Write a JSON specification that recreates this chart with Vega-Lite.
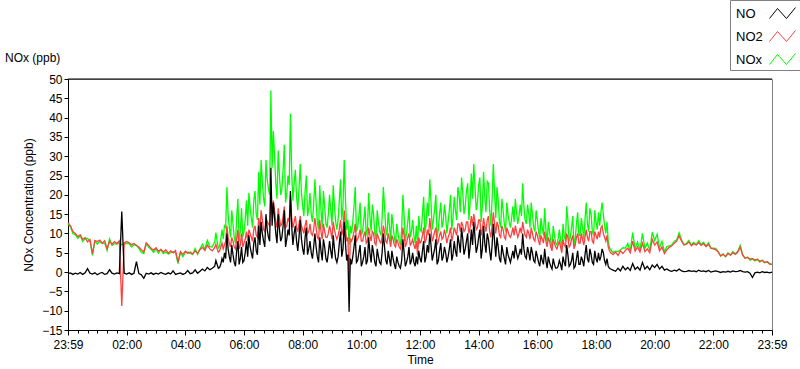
{
"$schema":"https://vega.github.io/schema/vega-lite/v6.json",
"autosize":{"type":"none"},
"width":704,"height":251,
"padding":{"left":68,"top":79,"right":28,"bottom":39},
"background":"white",
"config":{"font":"Liberation Sans","view":{"stroke":"#808080","strokeWidth":1},"axis":{"labelColor":"black","titleColor":"black","domainColor":"black","tickColor":"black","labelFontSize":12,"titleFontSize":12,"titleFontWeight":"normal","grid":false,"labelOverlap":false,"labelSeparation":0}},
"title":{"text":"NOx (ppb)","anchor":"start","frame":"group","dx":-63,"dy":65,"offset":0,"fontSize":12,"fontWeight":"normal","color":"black"},
"datasets":{"d":[
{"m":0,"NO":-0.4,"NO2":12.8,"NOx":12.4},{"m":5,"NO":-0.2,"NO2":12.0,"NOx":11.8},{"m":10,"NO":-0.6,"NO2":10.5,"NOx":9.9},{"m":15,"NO":-0.3,"NO2":10.0,"NOx":9.7},{"m":20,"NO":-0.5,"NO2":9.2,"NOx":8.7},{"m":25,"NO":-0.1,"NO2":9.6,"NOx":9.5},{"m":30,"NO":-0.6,"NO2":8.5,"NOx":7.9},{"m":35,"NO":-0.2,"NO2":8.9,"NOx":8.7},{"m":40,"NO":0.9,"NO2":7.8,"NOx":8.7},{"m":45,"NO":-0.3,"NO2":8.4,"NOx":8.1},
{"m":50,"NO":-0.5,"NO2":4.8,"NOx":4.3},{"m":55,"NO":-0.2,"NO2":8.2,"NOx":8.0},{"m":60,"NO":-0.7,"NO2":7.9,"NOx":7.2},{"m":65,"NO":-0.3,"NO2":8.3,"NOx":8.0},{"m":70,"NO":-0.1,"NO2":7.5,"NOx":7.4},{"m":75,"NO":-0.6,"NO2":8.1,"NOx":7.5},{"m":80,"NO":-0.4,"NO2":6.0,"NOx":5.6},{"m":85,"NO":0.6,"NO2":8.0,"NOx":8.6},{"m":90,"NO":-0.3,"NO2":7.2,"NOx":6.9},{"m":95,"NO":-0.5,"NO2":7.9,"NOx":7.4},
{"m":100,"NO":-0.2,"NO2":7.4,"NOx":7.2},{"m":105,"NO":-0.4,"NO2":8.1,"NOx":7.7},{"m":110,"NO":15.7,"NO2":-8.8,"NOx":7.0},{"m":115,"NO":-0.3,"NO2":7.6,"NOx":7.3},{"m":120,"NO":-0.5,"NO2":7.9,"NOx":7.4},{"m":125,"NO":-0.2,"NO2":7.6,"NOx":7.4},{"m":130,"NO":-0.6,"NO2":7.1,"NOx":6.5},{"m":135,"NO":-0.3,"NO2":7.4,"NOx":7.1},{"m":140,"NO":2.7,"NO2":6.8,"NOx":7.0},{"m":145,"NO":-0.4,"NO2":6.5,"NOx":6.1},
{"m":150,"NO":-0.7,"NO2":5.8,"NOx":5.1},{"m":155,"NO":-1.6,"NO2":5.2,"NOx":4.8},{"m":160,"NO":-0.3,"NO2":7.6,"NOx":7.3},{"m":165,"NO":-0.5,"NO2":6.9,"NOx":6.4},{"m":170,"NO":-0.2,"NO2":6.1,"NOx":5.9},{"m":175,"NO":-0.6,"NO2":5.7,"NOx":5.1},{"m":180,"NO":-0.3,"NO2":6.3,"NOx":6.0},{"m":185,"NO":-0.5,"NO2":5.4,"NOx":4.9},{"m":190,"NO":-0.1,"NO2":5.9,"NOx":5.8},{"m":195,"NO":-0.4,"NO2":5.2,"NOx":4.8},
{"m":200,"NO":-0.6,"NO2":5.8,"NOx":5.2},{"m":205,"NO":-0.2,"NO2":4.9,"NOx":4.7},{"m":210,"NO":-0.5,"NO2":5.5,"NOx":5.0},{"m":215,"NO":0.3,"NO2":5.0,"NOx":5.3},{"m":220,"NO":-0.6,"NO2":5.6,"NOx":5.0},{"m":225,"NO":-0.4,"NO2":2.6,"NOx":2.2},{"m":230,"NO":-0.2,"NO2":5.3,"NOx":5.1},{"m":235,"NO":-0.6,"NO2":4.6,"NOx":4.0},{"m":240,"NO":-0.3,"NO2":5.4,"NOx":5.1},{"m":245,"NO":0.4,"NO2":4.8,"NOx":5.2},
{"m":250,"NO":-0.4,"NO2":5.2,"NOx":4.8},{"m":255,"NO":-0.2,"NO2":4.7,"NOx":4.5},{"m":260,"NO":0.6,"NO2":5.5,"NOx":6.1},{"m":265,"NO":-0.3,"NO2":4.9,"NOx":4.6},{"m":270,"NO":0.2,"NO2":5.8,"NOx":6.0},{"m":275,"NO":0.8,"NO2":6.4,"NOx":7.2},{"m":280,"NO":0.3,"NO2":5.6,"NOx":5.9},{"m":285,"NO":1.2,"NO2":7.0,"NOx":8.2},{"m":290,"NO":0.6,"NO2":6.0,"NOx":6.6},{"m":295,"NO":1.0,"NO2":5.5,"NOx":6.5},
{"m":300,"NO":1.5,"NO2":6.3,"NOx":7.8},{"m":305,"NO":2.0,"NO2":6.0,"NOx":8.0},{"m":310,"NO":1.2,"NO2":5.5,"NOx":6.7},{"m":315,"NO":3.5,"NO2":7.5,"NOx":11.0},{"m":320,"NO":5.0,"NO2":7.0,"NOx":12.0},{"m":325,"NO":10.0,"NO2":12.0,"NOx":22.0},{"m":330,"NO":4.0,"NO2":7.5,"NOx":11.5},{"m":335,"NO":7.0,"NO2":9.0,"NOx":16.0},{"m":340,"NO":2.5,"NO2":6.5,"NOx":9.0},{"m":345,"NO":5.5,"NO2":8.5,"NOx":14.0},
{"m":350,"NO":2.0,"NO2":6.0,"NOx":8.0},{"m":355,"NO":6.5,"NO2":10.0,"NOx":16.5},{"m":360,"NO":3.0,"NO2":7.5,"NOx":10.5},{"m":365,"NO":8.0,"NO2":10.5,"NOx":18.5},{"m":370,"NO":9.5,"NO2":11.0,"NOx":20.5},{"m":375,"NO":5.0,"NO2":9.0,"NOx":14.0},{"m":380,"NO":7.5,"NO2":11.0,"NOx":18.5},{"m":385,"NO":5.5,"NO2":9.5,"NOx":15.0},{"m":390,"NO":12.0,"NO2":14.0,"NOx":26.0},{"m":395,"NO":13.0,"NO2":16.0,"NOx":29.0},
{"m":400,"NO":8.0,"NO2":11.0,"NOx":19.0},{"m":405,"NO":15.0,"NO2":14.0,"NOx":29.0},{"m":410,"NO":9.0,"NO2":12.5,"NOx":21.5},{"m":415,"NO":27.0,"NO2":20.0,"NOx":47.0},{"m":420,"NO":18.0,"NO2":18.5,"NOx":36.5},{"m":425,"NO":10.0,"NO2":13.0,"NOx":23.0},{"m":430,"NO":15.0,"NO2":16.5,"NOx":31.5},{"m":435,"NO":8.0,"NO2":12.0,"NOx":20.0},{"m":440,"NO":12.0,"NO2":14.5,"NOx":26.5},{"m":445,"NO":6.5,"NO2":11.5,"NOx":18.0},
{"m":450,"NO":11.0,"NO2":14.0,"NOx":25.0},{"m":455,"NO":21.0,"NO2":20.0,"NOx":41.0},{"m":460,"NO":7.0,"NO2":11.5,"NOx":18.5},{"m":465,"NO":12.0,"NO2":14.5,"NOx":26.5},{"m":470,"NO":5.5,"NO2":10.5,"NOx":16.0},{"m":475,"NO":13.5,"NO2":14.5,"NOx":28.0},{"m":480,"NO":6.0,"NO2":11.0,"NOx":17.0},{"m":485,"NO":9.0,"NO2":12.0,"NOx":21.0},{"m":490,"NO":4.5,"NO2":10.0,"NOx":14.5},{"m":495,"NO":8.0,"NO2":12.5,"NOx":20.5},
{"m":500,"NO":3.5,"NO2":9.5,"NOx":13.0},{"m":505,"NO":10.0,"NO2":14.0,"NOx":24.0},{"m":510,"NO":4.0,"NO2":9.0,"NOx":13.0},{"m":515,"NO":9.0,"NO2":13.5,"NOx":22.5},{"m":520,"NO":3.0,"NO2":8.5,"NOx":11.5},{"m":525,"NO":6.5,"NO2":10.5,"NOx":17.0},{"m":530,"NO":2.5,"NO2":9.0,"NOx":11.5},{"m":535,"NO":8.0,"NO2":12.0,"NOx":20.0},{"m":540,"NO":3.5,"NO2":8.5,"NOx":12.0},{"m":545,"NO":6.0,"NO2":11.0,"NOx":17.0},
{"m":550,"NO":2.5,"NO2":8.5,"NOx":11.0},{"m":555,"NO":7.5,"NO2":11.0,"NOx":18.5},{"m":560,"NO":4.0,"NO2":9.5,"NOx":13.5},{"m":565,"NO":13.0,"NO2":16.0,"NOx":29.0},{"m":570,"NO":3.0,"NO2":8.0,"NOx":11.0},{"m":575,"NO":-10.3,"NO2":-2.3,"NOx":7.0},{"m":580,"NO":2.0,"NO2":8.0,"NOx":10.0},{"m":585,"NO":6.5,"NO2":10.5,"NOx":17.0},{"m":590,"NO":2.5,"NO2":8.0,"NOx":10.5},{"m":595,"NO":5.0,"NO2":9.5,"NOx":14.5},
{"m":600,"NO":1.5,"NO2":8.0,"NOx":9.5},{"m":605,"NO":4.0,"NO2":9.5,"NOx":13.5},{"m":610,"NO":2.0,"NO2":7.5,"NOx":9.5},{"m":615,"NO":9.0,"NO2":11.5,"NOx":20.5},{"m":620,"NO":2.5,"NO2":8.0,"NOx":10.5},{"m":625,"NO":5.0,"NO2":10.0,"NOx":15.0},{"m":630,"NO":1.5,"NO2":7.0,"NOx":8.5},{"m":635,"NO":4.0,"NO2":9.0,"NOx":13.0},{"m":640,"NO":2.0,"NO2":7.5,"NOx":9.5},{"m":645,"NO":10.0,"NO2":12.0,"NOx":22.0},
{"m":650,"NO":3.0,"NO2":8.0,"NOx":11.0},{"m":655,"NO":5.5,"NO2":10.0,"NOx":15.5},{"m":660,"NO":1.5,"NO2":6.5,"NOx":8.0},{"m":665,"NO":3.5,"NO2":8.5,"NOx":12.0},{"m":670,"NO":0.8,"NO2":6.5,"NOx":7.3},{"m":675,"NO":2.5,"NO2":7.5,"NOx":10.0},{"m":680,"NO":1.0,"NO2":6.0,"NOx":7.0},{"m":685,"NO":8.5,"NO2":11.5,"NOx":20.0},{"m":690,"NO":1.5,"NO2":6.5,"NOx":8.0},{"m":695,"NO":4.0,"NO2":9.0,"NOx":13.0},
{"m":700,"NO":2.0,"NO2":7.0,"NOx":9.0},{"m":705,"NO":5.0,"NO2":8.5,"NOx":13.5},{"m":710,"NO":1.5,"NO2":6.0,"NOx":7.5},{"m":715,"NO":2.0,"NO2":4.5,"NOx":6.5},{"m":720,"NO":3.5,"NO2":7.5,"NOx":11.0},{"m":725,"NO":5.5,"NO2":9.5,"NOx":15.0},{"m":730,"NO":2.5,"NO2":7.5,"NOx":10.0},{"m":735,"NO":7.0,"NO2":11.0,"NOx":18.0},{"m":740,"NO":10.0,"NO2":14.0,"NOx":24.0},{"m":745,"NO":3.0,"NO2":8.0,"NOx":11.0},
{"m":750,"NO":6.0,"NO2":10.5,"NOx":16.5},{"m":755,"NO":2.0,"NO2":7.0,"NOx":9.0},{"m":760,"NO":5.5,"NO2":9.5,"NOx":15.0},{"m":765,"NO":3.0,"NO2":8.5,"NOx":11.5},{"m":770,"NO":6.5,"NO2":11.0,"NOx":17.5},{"m":775,"NO":2.5,"NO2":7.5,"NOx":10.0},{"m":780,"NO":6.0,"NO2":10.0,"NOx":16.0},{"m":785,"NO":3.0,"NO2":8.0,"NOx":11.0},{"m":790,"NO":8.0,"NO2":11.5,"NOx":19.5},{"m":795,"NO":4.0,"NO2":9.5,"NOx":13.5},
{"m":800,"NO":7.5,"NO2":12.5,"NOx":20.0},{"m":805,"NO":11.5,"NO2":13.0,"NOx":24.5},{"m":810,"NO":4.5,"NO2":10.5,"NOx":15.0},{"m":815,"NO":8.0,"NO2":13.0,"NOx":21.0},{"m":820,"NO":3.5,"NO2":10.0,"NOx":13.5},{"m":825,"NO":11.0,"NO2":14.5,"NOx":25.5},{"m":830,"NO":13.0,"NO2":15.0,"NOx":28.0},{"m":835,"NO":5.0,"NO2":11.0,"NOx":16.0},{"m":840,"NO":9.0,"NO2":13.5,"NOx":22.5},{"m":845,"NO":3.5,"NO2":9.5,"NOx":13.0},
{"m":850,"NO":12.0,"NO2":14.0,"NOx":26.0},{"m":855,"NO":5.0,"NO2":10.5,"NOx":15.5},{"m":860,"NO":8.5,"NO2":14.5,"NOx":23.0},{"m":865,"NO":3.0,"NO2":9.0,"NOx":12.0},{"m":870,"NO":12.5,"NO2":15.5,"NOx":28.0},{"m":875,"NO":4.0,"NO2":10.0,"NOx":14.0},{"m":880,"NO":6.5,"NO2":12.0,"NOx":18.5},{"m":885,"NO":2.5,"NO2":9.0,"NOx":11.5},{"m":890,"NO":5.0,"NO2":11.0,"NOx":16.0},{"m":895,"NO":2.0,"NO2":8.5,"NOx":10.5},
{"m":900,"NO":4.5,"NO2":10.5,"NOx":15.0},{"m":905,"NO":2.5,"NO2":9.0,"NOx":11.5},{"m":910,"NO":5.5,"NO2":11.5,"NOx":17.0},{"m":915,"NO":7.0,"NO2":12.0,"NOx":19.0},{"m":920,"NO":3.5,"NO2":9.0,"NOx":12.5},{"m":925,"NO":6.0,"NO2":11.5,"NOx":17.5},{"m":930,"NO":10.0,"NO2":13.0,"NOx":23.0},{"m":935,"NO":4.0,"NO2":9.5,"NOx":13.5},{"m":940,"NO":6.5,"NO2":11.0,"NOx":17.5},{"m":945,"NO":3.0,"NO2":8.5,"NOx":11.5},
{"m":950,"NO":5.0,"NO2":10.0,"NOx":15.0},{"m":955,"NO":2.5,"NO2":8.0,"NOx":10.5},{"m":960,"NO":4.0,"NO2":9.5,"NOx":13.5},{"m":965,"NO":1.5,"NO2":7.0,"NOx":8.5},{"m":970,"NO":3.0,"NO2":8.5,"NOx":11.5},{"m":975,"NO":6.0,"NO2":10.5,"NOx":16.5},{"m":980,"NO":1.0,"NO2":6.5,"NOx":7.5},{"m":985,"NO":2.5,"NO2":8.0,"NOx":10.5},{"m":990,"NO":0.8,"NO2":5.5,"NOx":6.3},{"m":995,"NO":2.0,"NO2":7.5,"NOx":9.5},
{"m":1000,"NO":1.0,"NO2":6.0,"NOx":7.0},{"m":1005,"NO":3.0,"NO2":8.0,"NOx":11.0},{"m":1010,"NO":0.5,"NO2":5.0,"NOx":5.5},{"m":1015,"NO":2.5,"NO2":7.0,"NOx":9.5},{"m":1020,"NO":7.0,"NO2":10.0,"NOx":17.0},{"m":1025,"NO":1.5,"NO2":6.5,"NOx":8.0},{"m":1030,"NO":3.0,"NO2":8.5,"NOx":11.5},{"m":1035,"NO":1.0,"NO2":6.0,"NOx":7.0},{"m":1040,"NO":3.5,"NO2":9.0,"NOx":12.5},{"m":1045,"NO":2.0,"NO2":7.5,"NOx":9.5},
{"m":1050,"NO":4.0,"NO2":10.0,"NOx":14.0},{"m":1055,"NO":1.5,"NO2":7.0,"NOx":8.5},{"m":1060,"NO":7.0,"NO2":11.0,"NOx":18.0},{"m":1065,"NO":2.5,"NO2":8.0,"NOx":10.5},{"m":1070,"NO":4.5,"NO2":10.5,"NOx":15.0},{"m":1075,"NO":2.0,"NO2":7.5,"NOx":9.5},{"m":1080,"NO":3.5,"NO2":9.5,"NOx":13.0},{"m":1085,"NO":5.0,"NO2":10.5,"NOx":15.5},{"m":1090,"NO":4.0,"NO2":11.5,"NOx":15.5},{"m":1095,"NO":5.0,"NO2":10.0,"NOx":15.0},
{"m":1100,"NO":2.0,"NO2":8.0,"NOx":10.0},{"m":1105,"NO":1.5,"NO2":6.5,"NOx":8.0},{"m":1110,"NO":0.8,"NO2":5.0,"NOx":5.8},{"m":1115,"NO":0.5,"NO2":4.5,"NOx":5.0},{"m":1120,"NO":0.2,"NO2":5.2,"NOx":5.4},{"m":1125,"NO":1.0,"NO2":4.3,"NOx":5.3},{"m":1130,"NO":0.3,"NO2":5.5,"NOx":5.8},{"m":1135,"NO":1.5,"NO2":4.8,"NOx":6.3},{"m":1140,"NO":0.6,"NO2":5.6,"NOx":6.2},{"m":1145,"NO":1.2,"NO2":6.2,"NOx":7.4},
{"m":1150,"NO":0.4,"NO2":5.0,"NOx":5.4},{"m":1155,"NO":2.2,"NO2":8.0,"NOx":10.2},{"m":1160,"NO":0.7,"NO2":5.4,"NOx":6.1},{"m":1165,"NO":1.3,"NO2":6.5,"NOx":7.8},{"m":1170,"NO":0.5,"NO2":5.2,"NOx":5.7},{"m":1175,"NO":2.5,"NO2":7.5,"NOx":10.0},{"m":1180,"NO":0.8,"NO2":5.3,"NOx":6.1},{"m":1185,"NO":1.5,"NO2":6.0,"NOx":7.5},{"m":1190,"NO":0.6,"NO2":5.0,"NOx":5.6},{"m":1195,"NO":1.8,"NO2":8.5,"NOx":10.3},
{"m":1200,"NO":1.2,"NO2":7.0,"NOx":8.2},{"m":1205,"NO":2.0,"NO2":7.8,"NOx":9.8},{"m":1210,"NO":0.8,"NO2":5.5,"NOx":6.3},{"m":1215,"NO":1.5,"NO2":6.5,"NOx":8.0},{"m":1220,"NO":0.5,"NO2":4.8,"NOx":5.3},{"m":1225,"NO":0.8,"NO2":5.8,"NOx":6.6},{"m":1230,"NO":0.4,"NO2":6.4,"NOx":6.8},{"m":1235,"NO":0.2,"NO2":6.8,"NOx":7.0},{"m":1240,"NO":0.5,"NO2":7.5,"NOx":8.0},{"m":1245,"NO":0.3,"NO2":8.0,"NOx":8.3},
{"m":1250,"NO":0.8,"NO2":9.4,"NOx":10.2},{"m":1255,"NO":0.3,"NO2":8.0,"NOx":8.3},{"m":1260,"NO":0.1,"NO2":7.0,"NOx":7.1},{"m":1265,"NO":0.2,"NO2":7.2,"NOx":7.4},{"m":1270,"NO":0.4,"NO2":7.8,"NOx":8.2},{"m":1275,"NO":0.2,"NO2":6.8,"NOx":7.0},{"m":1280,"NO":0.3,"NO2":7.4,"NOx":7.7},{"m":1285,"NO":0.1,"NO2":7.0,"NOx":7.1},{"m":1290,"NO":0.5,"NO2":7.6,"NOx":8.1},{"m":1295,"NO":0.2,"NO2":6.9,"NOx":7.1},
{"m":1300,"NO":0.3,"NO2":7.4,"NOx":7.7},{"m":1305,"NO":0.1,"NO2":6.6,"NOx":6.7},{"m":1310,"NO":0.4,"NO2":7.2,"NOx":7.6},{"m":1315,"NO":0.0,"NO2":6.2,"NOx":6.2},{"m":1320,"NO":0.2,"NO2":6.0,"NOx":6.2},{"m":1325,"NO":0.3,"NO2":5.8,"NOx":6.1},{"m":1330,"NO":0.1,"NO2":5.2,"NOx":5.3},{"m":1335,"NO":-0.1,"NO2":4.2,"NOx":4.1},{"m":1340,"NO":0.1,"NO2":4.6,"NOx":4.7},{"m":1345,"NO":0.0,"NO2":4.0,"NOx":4.0},
{"m":1350,"NO":0.2,"NO2":4.8,"NOx":5.0},{"m":1355,"NO":0.0,"NO2":4.4,"NOx":4.4},{"m":1360,"NO":0.3,"NO2":5.0,"NOx":5.3},{"m":1365,"NO":0.1,"NO2":4.6,"NOx":4.7},{"m":1370,"NO":0.2,"NO2":5.2,"NOx":5.4},{"m":1375,"NO":0.4,"NO2":6.5,"NOx":6.9},{"m":1380,"NO":0.1,"NO2":4.4,"NOx":4.5},{"m":1385,"NO":0.0,"NO2":3.6,"NOx":3.6},{"m":1390,"NO":0.1,"NO2":3.8,"NOx":3.9},{"m":1395,"NO":-0.3,"NO2":3.4,"NOx":3.1},
{"m":1400,"NO":-1.4,"NO2":3.5,"NOx":3.4},{"m":1405,"NO":-0.2,"NO2":3.1,"NOx":2.9},{"m":1410,"NO":0.0,"NO2":3.3,"NOx":3.3},{"m":1415,"NO":-0.2,"NO2":2.8,"NOx":2.6},{"m":1420,"NO":0.1,"NO2":3.0,"NOx":3.1},{"m":1425,"NO":-0.1,"NO2":2.5,"NOx":2.4},{"m":1430,"NO":0.0,"NO2":2.7,"NOx":2.7},{"m":1435,"NO":-0.2,"NO2":2.2,"NOx":2.0},{"m":1440,"NO":0.0,"NO2":2.0,"NOx":2.0},
{"m":302.5,"NO":3.0,"NO2":7.2,"NOx":10.2},{"m":307.5,"NO":1.0,"NO2":5.2,"NOx":6.2},{"m":312.5,"NO":2.0,"NO2":6.5,"NOx":8.5},{"m":317.5,"NO":2.5,"NO2":6.0,"NOx":8.5},{"m":322.5,"NO":3.5,"NO2":8.0,"NOx":11.5},{"m":327.5,"NO":6.0,"NO2":9.0,"NOx":15.0},{"m":332.5,"NO":2.5,"NO2":6.5,"NOx":9.0},{"m":337.5,"NO":4.5,"NO2":8.0,"NOx":12.5},{"m":342.5,"NO":1.5,"NO2":6.0,"NOx":7.5},{"m":347.5,"NO":8.0,"NO2":11.0,"NOx":19.0},
{"m":352.5,"NO":3.5,"NO2":7.0,"NOx":10.5},{"m":357.5,"NO":2.5,"NO2":6.5,"NOx":9.0},{"m":362.5,"NO":5.0,"NO2":8.5,"NOx":13.5},{"m":367.5,"NO":4.0,"NO2":8.0,"NOx":12.0},{"m":372.5,"NO":6.5,"NO2":10.0,"NOx":16.5},{"m":377.5,"NO":3.5,"NO2":8.0,"NOx":11.5},{"m":382.5,"NO":9.0,"NO2":12.0,"NOx":21.0},{"m":387.5,"NO":4.5,"NO2":9.0,"NOx":13.5},{"m":392.5,"NO":7.0,"NO2":10.5,"NOx":17.5},{"m":397.5,"NO":10.0,"NO2":13.5,"NOx":23.5},
{"m":402.5,"NO":6.5,"NO2":10.5,"NOx":17.0},{"m":407.5,"NO":11.0,"NO2":13.0,"NOx":24.0},{"m":412.5,"NO":8.0,"NO2":12.0,"NOx":20.0},{"m":417.5,"NO":12.0,"NO2":15.0,"NOx":27.0},{"m":422.5,"NO":14.0,"NO2":16.0,"NOx":30.0},{"m":427.5,"NO":7.5,"NO2":11.5,"NOx":19.0},{"m":432.5,"NO":11.0,"NO2":14.0,"NOx":25.0},{"m":437.5,"NO":9.0,"NO2":12.5,"NOx":21.5},{"m":442.5,"NO":16.0,"NO2":17.0,"NOx":33.0},{"m":447.5,"NO":8.5,"NO2":12.0,"NOx":20.5},
{"m":452.5,"NO":9.5,"NO2":13.0,"NOx":22.5},{"m":457.5,"NO":12.0,"NO2":14.0,"NOx":26.0},{"m":462.5,"NO":10.0,"NO2":13.0,"NOx":23.0},{"m":467.5,"NO":8.0,"NO2":11.5,"NOx":19.5},{"m":472.5,"NO":9.0,"NO2":12.5,"NOx":21.5},{"m":477.5,"NO":8.5,"NO2":12.0,"NOx":20.5},{"m":482.5,"NO":4.5,"NO2":10.0,"NOx":14.5},{"m":487.5,"NO":11.5,"NO2":13.5,"NOx":25.0},{"m":492.5,"NO":6.0,"NO2":10.5,"NOx":16.5},{"m":497.5,"NO":5.0,"NO2":10.0,"NOx":15.0},
{"m":502.5,"NO":6.5,"NO2":11.0,"NOx":17.5},{"m":507.5,"NO":6.5,"NO2":11.5,"NOx":18.0},{"m":512.5,"NO":2.5,"NO2":8.5,"NOx":11.0},{"m":517.5,"NO":5.5,"NO2":10.5,"NOx":16.0},{"m":522.5,"NO":8.5,"NO2":12.5,"NOx":21.0},{"m":527.5,"NO":3.5,"NO2":9.0,"NOx":12.5},{"m":532.5,"NO":5.0,"NO2":10.0,"NOx":15.0},{"m":537.5,"NO":5.5,"NO2":10.5,"NOx":16.0},{"m":542.5,"NO":9.5,"NO2":13.0,"NOx":22.5},{"m":547.5,"NO":3.5,"NO2":9.5,"NOx":13.0},
{"m":552.5,"NO":4.0,"NO2":9.5,"NOx":13.5},{"m":557.5,"NO":10.5,"NO2":13.5,"NOx":24.0},{"m":562.5,"NO":6.0,"NO2":11.0,"NOx":17.0},{"m":567.5,"NO":7.5,"NO2":11.5,"NOx":19.0},{"m":572.5,"NO":4.5,"NO2":9.0,"NOx":13.5},{"m":577.5,"NO":3.5,"NO2":8.5,"NOx":12.0},{"m":582.5,"NO":4.0,"NO2":9.0,"NOx":13.0},{"m":587.5,"NO":9.5,"NO2":12.5,"NOx":22.0},{"m":592.5,"NO":3.0,"NO2":8.5,"NOx":11.5},{"m":597.5,"NO":7.0,"NO2":11.0,"NOx":18.0},
{"m":602.5,"NO":2.5,"NO2":8.0,"NOx":10.5},{"m":607.5,"NO":6.5,"NO2":10.5,"NOx":17.0},{"m":612.5,"NO":3.0,"NO2":8.0,"NOx":11.0},{"m":617.5,"NO":5.0,"NO2":9.5,"NOx":14.5},{"m":622.5,"NO":7.0,"NO2":10.5,"NOx":17.5},{"m":627.5,"NO":2.5,"NO2":7.5,"NOx":10.0},{"m":632.5,"NO":6.0,"NO2":10.0,"NOx":16.0},{"m":637.5,"NO":2.5,"NO2":8.0,"NOx":10.5},{"m":642.5,"NO":5.0,"NO2":9.0,"NOx":14.0},{"m":647.5,"NO":6.5,"NO2":10.5,"NOx":17.0},
{"m":652.5,"NO":2.0,"NO2":7.5,"NOx":9.5},{"m":657.5,"NO":3.5,"NO2":8.5,"NOx":12.0},{"m":662.5,"NO":5.5,"NO2":9.5,"NOx":15.0},{"m":667.5,"NO":2.0,"NO2":7.0,"NOx":9.0},{"m":672.5,"NO":4.0,"NO2":8.5,"NOx":12.5},{"m":677.5,"NO":1.5,"NO2":6.5,"NOx":8.0},{"m":682.5,"NO":3.0,"NO2":8.0,"NOx":11.0},{"m":687.5,"NO":5.0,"NO2":9.5,"NOx":14.5},{"m":692.5,"NO":2.5,"NO2":7.5,"NOx":10.0},{"m":697.5,"NO":6.5,"NO2":10.0,"NOx":16.5},
{"m":702.5,"NO":3.0,"NO2":7.5,"NOx":10.5},{"m":707.5,"NO":2.5,"NO2":7.0,"NOx":9.5},{"m":712.5,"NO":4.0,"NO2":8.0,"NOx":12.0},{"m":717.5,"NO":5.5,"NO2":9.0,"NOx":14.5},{"m":722.5,"NO":2.5,"NO2":8.0,"NOx":10.5},{"m":727.5,"NO":8.0,"NO2":11.5,"NOx":19.5},{"m":732.5,"NO":4.0,"NO2":8.5,"NOx":12.5},{"m":737.5,"NO":5.0,"NO2":9.5,"NOx":14.5},{"m":742.5,"NO":7.0,"NO2":11.0,"NOx":18.0},{"m":747.5,"NO":4.5,"NO2":9.0,"NOx":13.5},
{"m":752.5,"NO":8.5,"NO2":11.5,"NOx":20.0},{"m":757.5,"NO":3.0,"NO2":8.0,"NOx":11.0},{"m":762.5,"NO":7.5,"NO2":10.5,"NOx":18.0},{"m":767.5,"NO":4.0,"NO2":9.0,"NOx":13.0},{"m":772.5,"NO":5.0,"NO2":9.5,"NOx":14.5},{"m":777.5,"NO":4.0,"NO2":9.0,"NOx":13.0},{"m":782.5,"NO":8.5,"NO2":11.5,"NOx":20.0},{"m":787.5,"NO":4.5,"NO2":9.5,"NOx":14.0},{"m":792.5,"NO":5.5,"NO2":10.5,"NOx":16.0},{"m":797.5,"NO":9.5,"NO2":12.5,"NOx":22.0},
{"m":802.5,"NO":5.0,"NO2":10.5,"NOx":15.5},{"m":807.5,"NO":8.5,"NO2":12.0,"NOx":20.5},{"m":812.5,"NO":6.0,"NO2":11.0,"NOx":17.0},{"m":817.5,"NO":10.0,"NO2":13.0,"NOx":23.0},{"m":822.5,"NO":6.5,"NO2":11.5,"NOx":18.0},{"m":827.5,"NO":7.0,"NO2":12.0,"NOx":19.0},{"m":832.5,"NO":9.0,"NO2":13.0,"NOx":22.0},{"m":837.5,"NO":6.5,"NO2":11.5,"NOx":18.0},{"m":842.5,"NO":11.0,"NO2":13.5,"NOx":24.5},{"m":847.5,"NO":6.0,"NO2":11.0,"NOx":17.0},
{"m":852.5,"NO":7.5,"NO2":12.0,"NOx":19.5},{"m":857.5,"NO":10.0,"NO2":13.5,"NOx":23.5},{"m":862.5,"NO":5.5,"NO2":10.5,"NOx":16.0},{"m":867.5,"NO":7.0,"NO2":12.0,"NOx":19.0},{"m":872.5,"NO":8.0,"NO2":12.5,"NOx":20.5},{"m":877.5,"NO":9.0,"NO2":13.0,"NOx":22.0},{"m":882.5,"NO":3.5,"NO2":9.5,"NOx":13.0},{"m":887.5,"NO":7.0,"NO2":12.0,"NOx":19.0},{"m":892.5,"NO":3.5,"NO2":9.0,"NOx":12.5},{"m":897.5,"NO":6.5,"NO2":11.5,"NOx":18.0},
{"m":902.5,"NO":3.5,"NO2":9.5,"NOx":13.0},{"m":907.5,"NO":4.0,"NO2":10.0,"NOx":14.0},{"m":912.5,"NO":3.5,"NO2":9.5,"NOx":13.0},{"m":917.5,"NO":5.0,"NO2":10.5,"NOx":15.5},{"m":922.5,"NO":4.5,"NO2":10.0,"NOx":14.5},{"m":927.5,"NO":4.5,"NO2":10.0,"NOx":14.5},{"m":932.5,"NO":6.0,"NO2":11.0,"NOx":17.0},{"m":937.5,"NO":3.5,"NO2":9.0,"NOx":12.5},{"m":942.5,"NO":5.0,"NO2":10.0,"NOx":15.0},{"m":947.5,"NO":6.5,"NO2":11.5,"NOx":18.0},
{"m":952.5,"NO":3.0,"NO2":8.5,"NOx":11.5},{"m":957.5,"NO":5.5,"NO2":10.5,"NOx":16.0},{"m":962.5,"NO":2.5,"NO2":8.0,"NOx":10.5},{"m":967.5,"NO":4.5,"NO2":9.5,"NOx":14.0},{"m":972.5,"NO":2.0,"NO2":7.5,"NOx":9.5},{"m":977.5,"NO":3.0,"NO2":8.0,"NOx":11.0},{"m":982.5,"NO":4.0,"NO2":9.0,"NOx":13.0},{"m":987.5,"NO":1.5,"NO2":6.5,"NOx":8.0},{"m":992.5,"NO":3.5,"NO2":8.5,"NOx":12.0},{"m":997.5,"NO":1.0,"NO2":6.5,"NOx":7.5},
{"m":1002.5,"NO":1.5,"NO2":7.0,"NOx":8.5},{"m":1007.5,"NO":2.0,"NO2":6.5,"NOx":8.5},{"m":1012.5,"NO":4.0,"NO2":8.5,"NOx":12.5},{"m":1017.5,"NO":1.5,"NO2":6.5,"NOx":8.0},{"m":1022.5,"NO":4.5,"NO2":9.0,"NOx":13.5},{"m":1027.5,"NO":2.0,"NO2":7.0,"NOx":9.0},{"m":1032.5,"NO":5.0,"NO2":9.5,"NOx":14.5},{"m":1037.5,"NO":1.5,"NO2":7.0,"NOx":8.5},{"m":1042.5,"NO":5.5,"NO2":10.0,"NOx":15.5},{"m":1047.5,"NO":2.0,"NO2":7.5,"NOx":9.5},
{"m":1052.5,"NO":3.0,"NO2":8.5,"NOx":11.5},{"m":1057.5,"NO":4.5,"NO2":9.0,"NOx":13.5},{"m":1062.5,"NO":3.5,"NO2":9.0,"NOx":12.5},{"m":1067.5,"NO":6.0,"NO2":10.5,"NOx":16.5},{"m":1072.5,"NO":2.5,"NO2":8.0,"NOx":10.5},{"m":1077.5,"NO":5.5,"NO2":10.5,"NOx":16.0},{"m":1082.5,"NO":2.5,"NO2":8.5,"NOx":11.0},{"m":1087.5,"NO":3.0,"NO2":9.0,"NOx":12.0},{"m":1092.5,"NO":6.0,"NO2":12.0,"NOx":18.0},{"m":1097.5,"NO":3.0,"NO2":9.0,"NOx":12.0},
{"m":1102.5,"NO":3.5,"NO2":9.5,"NOx":13.0},{"m":1107.5,"NO":1.0,"NO2":5.5,"NOx":6.5}
]},
"data":{"name":"d"},
"layer":[
{"mark":{"type":"line","strokeWidth":1.3},
 "encoding":{
  "x":{"field":"m","type":"quantitative","scale":{"domain":[0,1440],"nice":false,"zero":false},
   "axis":{"title":"Time","tickCount":200,"values":[0,20,40,60,80,100,120,140,160,180,200,220,240,260,280,300,320,340,360,380,400,420,440,460,480,500,520,540,560,580,600,620,640,660,680,700,720,740,760,780,800,820,840,860,880,900,920,940,960,980,1000,1020,1040,1060,1080,1100,1120,1140,1160,1180,1200,1220,1240,1260,1280,1300,1320,1340,1360,1380,1400,1420,1440],
    "labelExpr":"datum.value == 0 || datum.value == 1440 ? '23:59' : (datum.value % 120 == 0 ? (datum.value < 600 ? '0' : '') + (datum.value / 60) + ':00' : '')",
    "tickSize":{"condition":{"test":"datum.value % 120 == 0","value":5},"value":3},
    "labelFlush":false,"labelOverlap":false,"labelPadding":4,"titlePadding":4}},
  "y":{"field":"NOx","type":"quantitative","title":"NOx Concentration (ppb)","scale":{"domain":[-15,50],"nice":false,"zero":false},
   "axis":{"tickCount":100,"format":"d","values":[-15,-10,-5,0,5,10,15,20,25,30,35,40,45,50],"tickSize":4,"labelPadding":2,"titlePadding":6,"labelOverlap":false}},
  "color":{"datum":"NOx","type":"nominal","scale":{"domain":["NO","NO2","NOx"],"range":["#000000","#ff4040","#00ff00"]},
   "legend":{"orient":"none","legendX":662,"legendY":-79,"title":null,"fillColor":"white","strokeColor":"#808080","padding":3,
    "symbolType":"M-1.3,0.5L-0.5,-0.5L0.4,0.5L1.3,-0.6","symbolSize":400,"symbolStrokeWidth":1,"symbolFillColor":"transparent",
    "symbolOffset":39,"labelOffset":-57,"labelAlign":"left","labelFontSize":13,"labelColor":"black","rowPadding":5}}
 }},
{"mark":{"type":"line","strokeWidth":1.3},
 "encoding":{
  "x":{"field":"m","type":"quantitative"},
  "y":{"field":"NO2","type":"quantitative","title":"NOx Concentration (ppb)"},
  "color":{"datum":"NO2","type":"nominal"}
 }},
{"mark":{"type":"line","strokeWidth":1.3},
 "encoding":{
  "x":{"field":"m","type":"quantitative"},
  "y":{"field":"NO","type":"quantitative","title":"NOx Concentration (ppb)"},
  "color":{"datum":"NO","type":"nominal"}
 }},
{"data":{"values":[{}]},
 "mark":{"type":"rule","color":"black","strokeWidth":1},
 "encoding":{"y":{"datum":50}}}
]
}
